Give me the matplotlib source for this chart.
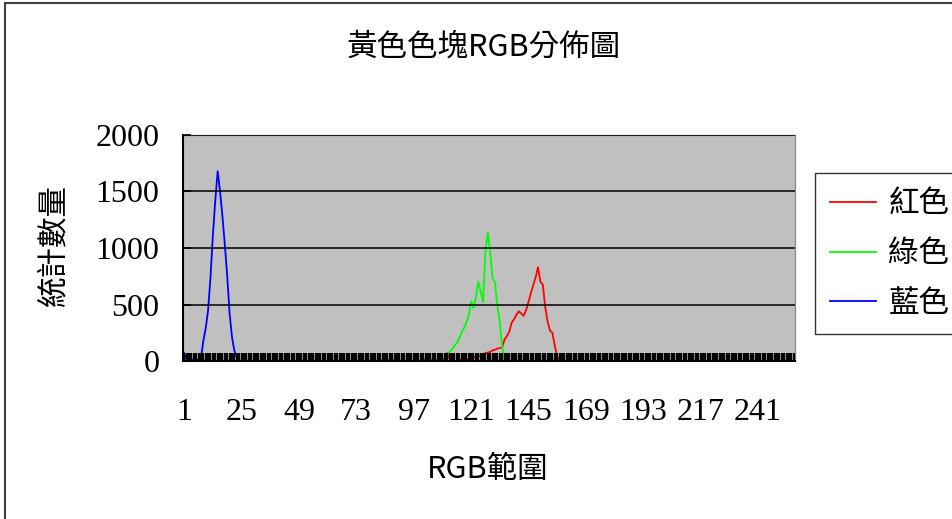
import matplotlib
matplotlib.use("Agg")
import matplotlib.pyplot as plt
from matplotlib.lines import Line2D
import numpy as np

# category axis: RGB level 1..256
categories = list(range(1, 257))
tick_labels = [1, 25, 49, 73, 97, 121, 145, 169, 193, 217, 241]
y_ticks = [0, 500, 1000, 1500, 2000]

# counts (category -> count), everything else is 0
red_points = {
    101: 15, 102: 15, 110: 20, 111: 70, 112: 20,
    117: 15, 118: 15, 119: 15, 120: 15, 121: 15, 122: 30, 123: 40, 124: 55,
    125: 40, 126: 60, 127: 70, 128: 75, 129: 80, 130: 95, 131: 100, 132: 110,
    133: 115, 134: 120, 135: 190, 136: 220, 137: 260, 138: 340, 139: 370,
    140: 410, 141: 440, 142: 420, 143: 400, 144: 450, 145: 520, 146: 600,
    147: 670, 148: 740, 149: 830, 150: 700, 151: 680, 152: 480, 153: 350,
    154: 270, 155: 250, 156: 140, 157: 40, 158: 10,
}
green_points = {
    27: 10, 28: 10,
    83: 12, 84: 12, 85: 12, 86: 12, 87: 12, 88: 12, 89: 12, 90: 12, 91: 12, 92: 12,
    103: 15, 104: 15, 105: 15, 106: 15, 107: 15, 108: 15, 109: 25, 110: 40,
    111: 60, 112: 80, 113: 105, 114: 130, 115: 160, 116: 200, 117: 250,
    118: 290, 119: 340, 120: 400, 121: 530, 122: 470, 123: 560, 124: 700,
    125: 620, 126: 520, 127: 960, 128: 1140, 129: 960, 130: 730, 131: 700,
    132: 480, 133: 350, 134: 130, 135: 10,
}
blue_points = {
    1: 70, 2: 12, 3: 12, 4: 12, 5: 12, 6: 12, 7: 12, 8: 15, 9: 180, 10: 290,
    11: 450, 12: 740, 13: 1110, 14: 1420, 15: 1680, 16: 1500, 17: 1280,
    18: 1030, 19: 750, 20: 420, 21: 210, 22: 90, 23: 30,
}

series_names = ["紅色", "綠色", "藍色"]
series_colors = ["#FF0000", "#00FF00", "#0000FF"]


def to_series(points):
    return np.array([points.get(c, 0) for c in categories], dtype=float)


plt.rcParams['font.family'] = ['Noto Sans CJK TC', 'DejaVu Sans']

fig = plt.figure(figsize=(9.52, 5.19), dpi=100)
W, H = 952, 519

# outer chart border (right/bottom are cropped in the reference)
fig.patches.append(plt.Rectangle((5 / W, -0.1), 1.2, 1.1 - 3 / H,
                                 transform=fig.transFigure, fill=False,
                                 edgecolor="#404040", linewidth=1.5))

ax = fig.add_axes([183 / W, 1 - 361 / H, (795 - 183) / W, (361 - 135) / H])
ax.set_facecolor("#C0C0C0")

for name, color, pts in zip(series_names, series_colors,
                            [red_points, green_points, blue_points]):
    ax.plot(categories, to_series(pts), color=color, linewidth=1.3, label=name)

ax.set_xlim(0.5, 256.5)
ax.set_ylim(0, 2000)

ax.set_yticks(y_ticks)
ax.set_yticklabels([str(v) for v in y_ticks], family="Liberation Serif", fontsize=23)
ax.set_xticks(tick_labels)
ax.set_xticklabels([str(v) for v in tick_labels], family="Liberation Serif", fontsize=23)
ax.set_xticks(categories, minor=True)

# dense category ticks form the black band along the bottom
ax.tick_params(axis="x", which="both", direction="in", length=5.8, width=1.65,
               color="black", pad=27)
ax.tick_params(axis="y", which="major", direction="in", length=6, width=1.2,
               color="black", pad=17)

ax.grid(axis="y", color="black", linewidth=1.1)
ax.set_axisbelow(False)

ax.spines["left"].set_color("black")
ax.spines["left"].set_linewidth(1.5)
ax.spines["bottom"].set_color("black")
ax.spines["bottom"].set_linewidth(1.5)
for side in ["top", "right"]:
    ax.spines[side].set_color("#909090")
    ax.spines[side].set_linewidth(1.0)

fig.text(484 / W, 1 - 47.5 / H, "黃色色塊RGB分佈圖", ha="center", va="center",
         fontsize=22)
fig.text(487.5 / W, 1 - 470 / H, "RGB範圍", ha="center", va="center", fontsize=22)
fig.text(53.5 / W, 1 - 245 / H, "統計數量", ha="center", va="center",
         rotation=90, fontsize=22)

handles = [Line2D([], [], color=c, linewidth=1.3) for c in series_colors]
leg = fig.legend(handles, series_names, loc="upper left",
                 bbox_to_anchor=(815 / W, 1 - 173 / H), fontsize=22,
                 frameon=True, fancybox=False, edgecolor="black",
                 handlelength=1.5, handletextpad=0.4, labelspacing=0.62,
                 borderpad=0.5, borderaxespad=0)
leg.get_frame().set_linewidth(1.0)

fig.savefig("out.png", dpi=100, facecolor="white")
